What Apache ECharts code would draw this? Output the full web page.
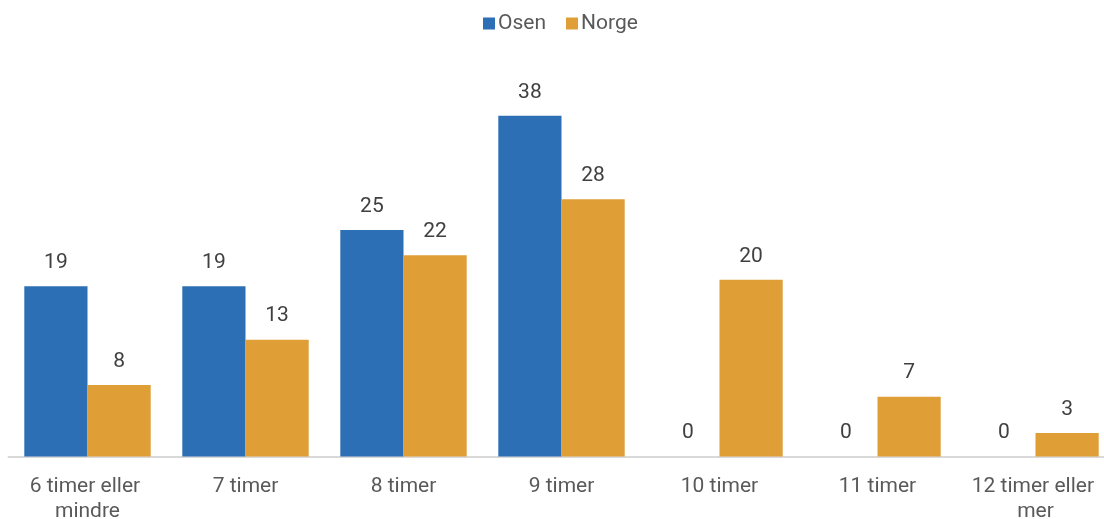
<!DOCTYPE html>
<html>
<head>
<meta charset="utf-8">
<script src="https://cdn.jsdelivr.net/npm/echarts@6/dist/echarts.min.js"></script>
<style>html,body{margin:0;padding:0;background:#fff}#c{width:1104px;height:519px}</style>
</head>
<body>
<div id="c"></div>
<script>
const categories = ["6 timer eller mindre", "7 timer", "8 timer", "9 timer", "10 timer", "11 timer", "12 timer eller mer"];
const osen = [18.8, 18.8, 25.0, 37.6, 0, 0, 0];
const norge = [7.9, 12.9, 22.2, 28.4, 19.5, 6.6, 2.6];
const seriesNames = ["Osen", "Norge"];

const chart = echarts.init(document.getElementById('c'));
const font = 'Roboto, "Noto Sans", sans-serif';
const labelCfg = {
  show: true, position: 'top', distance: 13,
  color: '#404040', fontSize: 21, fontFamily: font,
  formatter: p => Math.round(p.value)
};
chart.setOption({
  animation: false,
  legend: {
    top: 8, left: 478, itemWidth: 12, itemHeight: 12, itemGap: 20,
    icon: 'rect',
    textStyle: { color: '#595959', fontSize: 21, fontFamily: font, padding: [0, 0, 0, -2] },
    data: seriesNames
  },
  grid: { left: 8.5, width: 1106, top: 94.1, bottom: 62.5, containLabel: false, outerBoundsMode: 'none' },
  xAxis: {
    type: 'category', data: categories,
    axisLine: { lineStyle: { color: '#D9D9D9', width: 2 } },
    axisTick: { show: false },
    axisLabel: {
      color: '#595959', fontSize: 21, fontFamily: font, margin: 18,
      lineHeight: 25, width: 150, overflow: 'break', interval: 0
    }
  },
  yAxis: { type: 'value', min: 0, max: 40, show: false, splitLine: { show: false } },
  series: [
    { name: seriesNames[0], type: 'bar', data: osen, barGap: '0%', barCategoryGap: '20%',
      itemStyle: { color: '#2D6FB4' }, label: labelCfg },
    { name: seriesNames[1], type: 'bar', data: norge, barGap: '0%', barCategoryGap: '20%',
      itemStyle: { color: '#DF9E36' }, label: labelCfg }
  ]
});
</script>
</body>
</html>
